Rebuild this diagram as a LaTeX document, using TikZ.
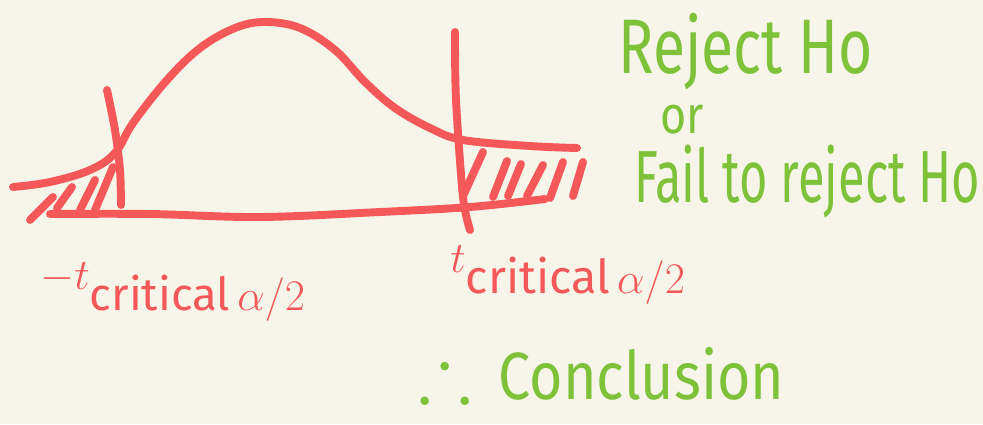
\documentclass[tikz,border=0pt]{standalone}
\usepackage{fontspec}
\usepackage{graphicx}
\usepackage{amsmath,amssymb}
\setmainfont{Fira Sans}
\definecolor{pen}{HTML}{F45858}
\definecolor{leaf}{HTML}{7DC238}
\definecolor{paper}{HTML}{F7F5EA}
\tikzset{ink/.style = {pen, line width = 4.5pt, line cap = round, line join = round},
	note/.style = {leaf, anchor = west, inner sep = 0pt}}
\begin{document}
\begin{tikzpicture}[x = 0.02cm, y = -0.02cm]
		\fill[paper] (0,0) rectangle (983,424);
		\draw[ink] plot[smooth, tension = 0.6] coordinates {(13,187) (50,182) (90,170) (115,153) (133,123) (167,80) (200,48) (235,28) (265,22) (300,28) (335,50) (365,82) (395,108) (430,128) (463,140) (530,146) (577,148)};
		\draw[ink] plot[smooth, tension = 0.6] coordinates {(50,214) (150,214) (260,217) (380,212) (470,207) (545,199)};
		\draw[ink] plot[smooth] coordinates {(107,90) (115,130) (120,170) (121,205)};
		\draw[ink] plot[smooth] coordinates {(455,32) (456,100) (463,197) (470,230)};
		\foreach \a/\b in {{30,220}/{53,197}, {57,208}/{72,187}, {80,210}/{95,180}, {95,210}/{113,167}}
			\draw[ink] (\a) -- (\b);
		\foreach \a/\b in {{463,196}/{483,152}, {493,197}/{507,161}, {508,196}/{521,164}, {527,196}/{543,165}, {550,198}/{563,162}, {573,196}/{583,162}}
			\draw[ink] (\a) -- (\b);
		\node[pen, anchor = west, inner sep = 0pt, font = \fontsize{37}{42}\selectfont] (lowcrit) at (40,292) {$-t_{\text{critical}\,\alpha/2}$};
		\node[pen, anchor = west, inner sep = 0pt, font = \fontsize{38}{44}\selectfont] (upcrit) at (450,275) {$t_{\text{critical}\,\alpha/2}$};
		\node[note, font = \fontsize{44}{50}\selectfont] (reject) at (618,52) {\scalebox{0.76}[1]{Reject Ho}};
		\node[note, font = \fontsize{30}{36}\selectfont] (or) at (660,120) {\scalebox{0.85}[1]{or}};
		\node[note, font = \fontsize{42}{48}\selectfont] (fail) at (634,182) {\scalebox{0.66}[1]{Fail to reject Ho}};
		\node[note, font = \fontsize{38}{44}\selectfont] (concl) at (418,372) {\scalebox{1.2}{$\therefore$}\hspace{0.4em}\scalebox{0.86}[1]{Conclusion}};
	\end{tikzpicture}
\end{document}
